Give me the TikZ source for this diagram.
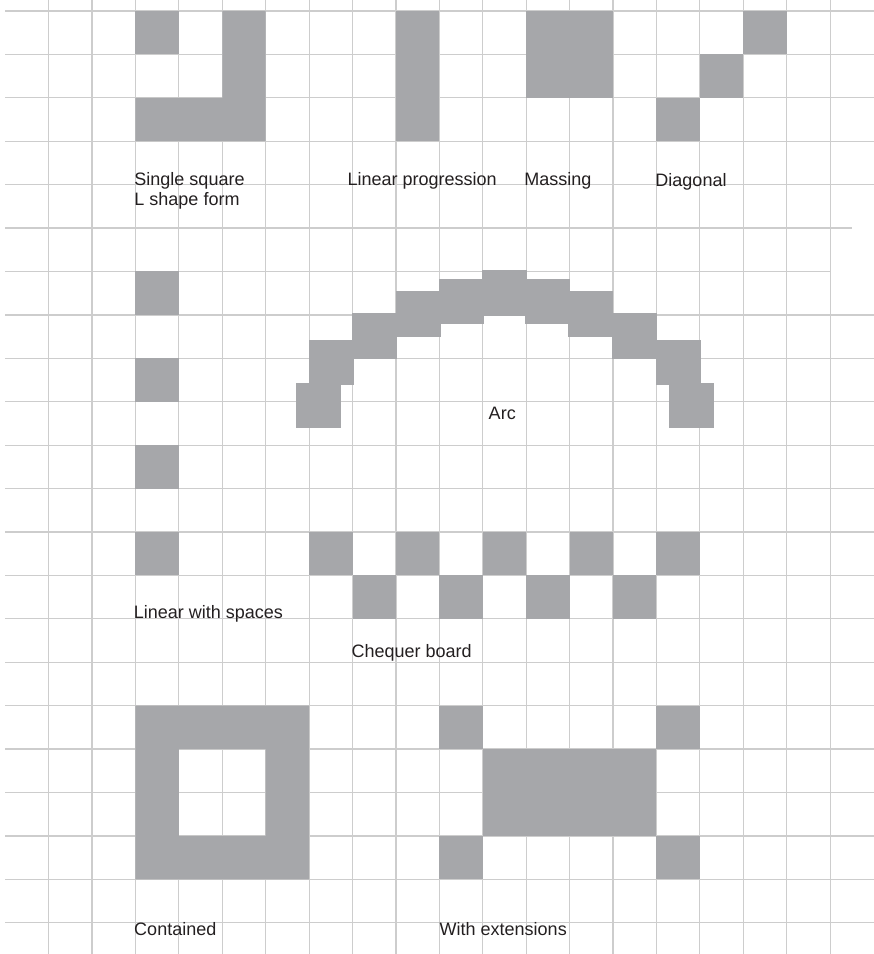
\documentclass[tikz,border=0pt]{standalone}
\usepackage{fontspec}
\setmainfont{Liberation Sans}
\usepackage{xcolor}
\usepackage{tikz}
\definecolor{gridgray}{HTML}{CDCDCD}
\definecolor{blockgray}{HTML}{A6A7AA}
\definecolor{inkdark}{HTML}{231F20}
\tikzset{
  gridline/.style={draw=gridgray, line width=0.8pt},
  block/.style={fill=blockgray},
  caption/.style={anchor=base west, inner sep=0pt, text=inkdark, align=left, font=\fontsize{11.8pt}{13.1pt}\selectfont}
}

\begin{document}
\begin{tikzpicture}
  \useasboundingbox (-0.12,0.253) rectangle (20.0,-21.72);

  \foreach \j in {0,1,2,3,4,7,8,...,21}
    \draw[gridline] (0,-\j) -- (20,-\j);
  \draw[gridline] (0,-5) -- (19.5,-5);
  \draw[gridline] (0,-6) -- (19,-6);
  \foreach \i in {1,...,19}
    \draw[gridline] (\i,0.253) -- (\i,-21.72);

  \fill[block] (3,0) rectangle (4,-1);
  \fill[block] (5,0) -- (6,0) -- (6,-3) -- (3,-3) -- (3,-2) -- (5,-2) -- cycle;
  \fill[block] (9,0) rectangle (10,-3);
  \fill[block] (12,0) rectangle (14,-2);
  \foreach \k in {0,1,2}
    \fill[block] (15+\k,-2+\k) rectangle +(1,-1);

  \foreach \j in {6,8,10,12}
    \fill[block] (3,-\j) rectangle +(1,-1);
  \foreach \x/\y in {6.69/-8.56, 6.99/-7.57, 7.99/-6.96, 9.0/-6.45, 10.0/-6.17, 10.98/-5.97,
                     11.97/-6.17, 12.96/-6.45, 13.98/-6.96, 14.99/-7.57, 15.28/-8.56}
    \fill[block] (\x,\y) rectangle +(1.035,-1.05);
  \foreach \i in {7,9,...,15}
    \fill[block] (\i,-12) rectangle +(1,-1);
  \foreach \i in {8,10,...,14}
    \fill[block] (\i,-13) rectangle +(1,-1);

  \fill[block, even odd rule] (3,-16) rectangle (7,-20) (4,-17) rectangle (6,-19);
  \foreach \x/\y in {10/-16, 15/-16, 10/-19, 15/-19}
    \fill[block] (\x,\y) rectangle +(1,-1);
  \fill[block] (11,-17) rectangle (15,-19);

  \node[caption] (single) at (2.97,-4.485) {Single square\\L shape form};
  \node[caption] (linear) at (7.88,-4.01) {Linear progression};
  \node[caption] (massing) at (11.95,-4.01) {Massing};
  \node[caption] (diagonal) at (14.97,-4.05) {Diagonal};
  \node[caption] (arc) at (11.13,-9.40) {Arc};
  \node[caption] (spaces) at (2.955,-13.99) {Linear with spaces};
  \node[caption] (chequer) at (7.97,-14.89) {Chequer board};
  \node[caption] (contained) at (2.965,-21.30) {Contained};
  \node[caption] (extensions) at (10.0,-21.30) {With extensions};
\end{tikzpicture}
\end{document}
